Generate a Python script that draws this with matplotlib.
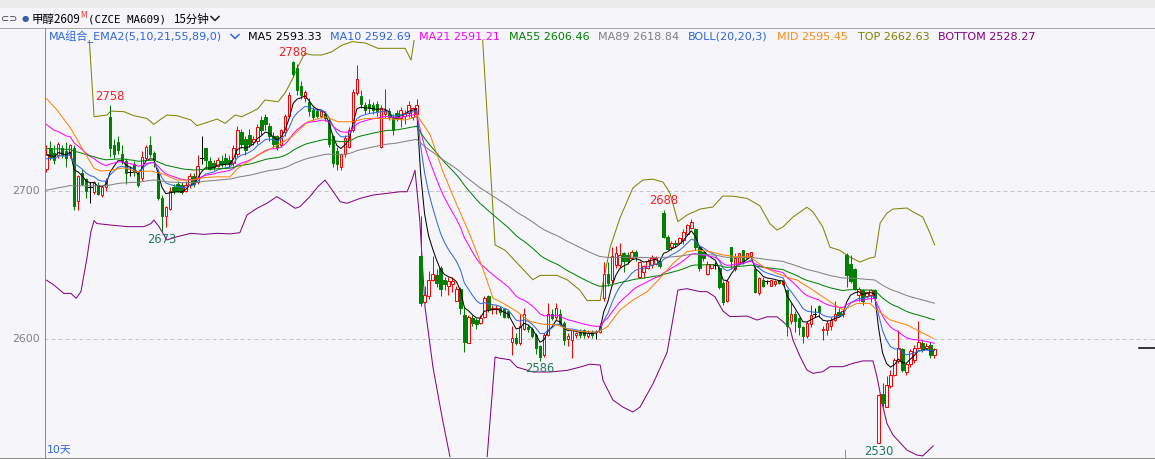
import matplotlib
matplotlib.use('Agg')
import matplotlib.pyplot as plt
from matplotlib.patches import Rectangle
from matplotlib.lines import Line2D

# ---------------- data (15-minute candles) ----------------
opens = [2715,2729,2726,2724,2729,2727,2724,2729,2693,2712,
         2708,2703,2699,2704,2697,2703,2750,2731,2733,2725,
         2720,2713,2718,2712,2709,2722,2731,2726,2712,2695,
         2683,2688,2703,2705,2704,2700,2704,2710,2706,2722,
         2729,2720,2719,2717,2720,2722,2721,2719,2725,2740,
         2735,2738,2733,2734,2748,2750,2744,2737,2737,2731,
         2740,2751,2787,2783,2771,2763,2760,2755,2754,2751,
         2752,2748,2737,2727,2716,2725,2730,2741,2766,2764,
         2758,2759,2758,2759,2730,2752,2754,2750,2753,2749,
         2751,2753,2750,2752,2656,2625,2629,2640,2643,2648,
         2640,2636,2637,2626,2634,2616,2597,2614,2613,2611,
         2615,2629,2620,2620,2621,2620,2619,2598,2601,2597,
         2607,2608,2607,2603,2595,2589,2603,2617,2615,2617,
         2611,2600,2599,2603,2605,2606,2602,2605,2605,2605,
         2628,2644,2640,2650,2650,2658,2657,2655,2659,2642,
         2645,2648,2650,2651,2652,2685,2669,2662,2665,2665,
         2667,2671,2675,2674,2662,2659,2644,2648,2650,2648,
         2638,2626,2662,2647,2651,2660,2655,2656,2647,2631,
         2640,2639,2636,2637,2640,2637,2633,2612,2617,2614,
         2608,2602,2610,2617,2622,2606,2606,2609,2613,2618,
         2617,2657,2651,2647,2630,2633,2629,2630,2633,2530,
         2563,2554,2568,2576,2585,2593,2578,2583,2586,2594,
         2597,2594,2596,2589]
highs = [2731,2734,2731,2733,2731,2733,2732,2731,2711,2715,
         2709,2706,2707,2706,2704,2709,2758,2735,2737,2731,
         2722,2717,2720,2713,2727,2731,2737,2727,2715,2697,
         2690,2703,2705,2707,2706,2707,2712,2712,2724,2737,
         2729,2723,2721,2723,2724,2726,2724,2731,2744,2742,
         2737,2742,2737,2745,2751,2752,2746,2740,2738,2742,
         2752,2767,2788,2786,2774,2768,2763,2757,2756,2755,
         2754,2750,2738,2730,2726,2738,2743,2769,2785,2768,
         2760,2762,2760,2761,2758,2769,2756,2752,2755,2757,
         2755,2761,2757,2762,2683,2636,2646,2656,2647,2649,
         2642,2642,2642,2636,2635,2622,2616,2616,2614,2616,
         2629,2630,2623,2623,2622,2620,2619,2609,2604,2617,
         2621,2610,2608,2604,2596,2604,2624,2620,2624,2620,
         2612,2604,2606,2605,2607,2607,2606,2606,2606,2611,
         2652,2652,2662,2663,2665,2659,2659,2660,2660,2653,
         2650,2654,2657,2656,2654,2687,2670,2666,2667,2669,
         2674,2678,2681,2675,2663,2659,2653,2651,2652,2649,
         2639,2640,2662,2658,2658,2660,2658,2659,2649,2642,
         2642,2640,2640,2640,2640,2640,2634,2624,2619,2615,
         2609,2612,2623,2621,2623,2609,2613,2615,2626,2621,
         2620,2658,2657,2648,2635,2634,2632,2634,2634,2563,
         2570,2575,2579,2587,2606,2594,2584,2593,2596,2612,
         2599,2597,2598,2594]
lows = [2713,2721,2718,2722,2722,2716,2722,2687,2687,2704,
        2695,2692,2698,2697,2696,2700,2723,2722,2725,2718,
        2705,2710,2710,2703,2707,2721,2723,2716,2694,2673,
        2676,2687,2698,2699,2698,2699,2702,2703,2705,2718,
        2715,2714,2714,2716,2716,2717,2716,2717,2723,2729,
        2724,2730,2731,2732,2738,2741,2734,2729,2728,2730,
        2737,2749,2777,2765,2762,2760,2751,2748,2749,2749,
        2747,2730,2716,2714,2714,2723,2729,2740,2765,2756,
        2752,2753,2752,2751,2729,2749,2748,2738,2747,2743,
        2745,2750,2748,2750,2622,2624,2627,2639,2635,2629,
        2633,2630,2632,2626,2617,2591,2597,2609,2607,2610,
        2614,2618,2617,2617,2616,2614,2614,2589,2596,2596,
        2606,2605,2601,2590,2585,2588,2602,2613,2613,2609,
        2596,2595,2587,2601,2601,2601,2601,2601,2600,2604,
        2626,2636,2638,2648,2648,2645,2651,2654,2653,2641,
        2641,2647,2648,2650,2648,2668,2660,2660,2662,2664,
        2664,2670,2674,2660,2646,2653,2643,2647,2647,2634,
        2623,2625,2647,2646,2650,2651,2654,2655,2631,2630,
        2635,2637,2636,2636,2637,2636,2602,2610,2605,2603,
        2597,2601,2608,2615,2615,2599,2603,2606,2612,2615,
        2615,2635,2638,2633,2626,2623,2628,2625,2625,2530,
        2554,2554,2567,2575,2584,2578,2576,2581,2584,2593,
        2591,2593,2587,2587]
closes = [2725,2723,2721,2732,2724,2722,2731,2690,2710,2705,
          2700,2703,2706,2698,2703,2707,2729,2725,2728,2720,
          2712,2713,2713,2704,2723,2730,2725,2721,2695,2683,
          2689,2700,2700,2700,2699,2704,2710,2705,2717,2722,
          2721,2715,2716,2721,2718,2719,2718,2729,2741,2732,
          2728,2732,2735,2743,2741,2745,2737,2732,2730,2741,
          2751,2765,2779,2768,2765,2767,2754,2750,2751,2754,
          2749,2732,2719,2718,2725,2736,2741,2767,2776,2759,
          2755,2756,2755,2754,2756,2755,2750,2741,2749,2755,
          2753,2758,2756,2758,2624,2630,2640,2644,2638,2634,
          2637,2639,2639,2634,2621,2598,2615,2611,2610,2614,
          2628,2620,2621,2621,2618,2615,2615,2601,2597,2609,
          2617,2607,2602,2594,2588,2603,2617,2614,2621,2610,
          2599,2602,2606,2604,2603,2603,2604,2603,2605,2609,
          2644,2638,2656,2658,2657,2653,2653,2659,2656,2652,
          2649,2653,2655,2655,2649,2669,2661,2665,2664,2668,
          2672,2677,2679,2662,2648,2655,2651,2651,2650,2635,
          2625,2639,2653,2655,2658,2653,2658,2659,2632,2641,
          2636,2639,2640,2639,2638,2639,2609,2617,2612,2608,
          2602,2611,2616,2617,2618,2607,2611,2613,2617,2616,
          2619,2643,2639,2634,2634,2626,2632,2633,2628,2562,
          2557,2569,2576,2586,2594,2579,2583,2592,2594,2598,
          2593,2595,2589,2593]

# EMA periods and their starting values at the left edge
ema_periods = [5, 10, 21, 55, 89]
ema_seeds = [2724, 2721, 2747, 2729, 2700]
ema_colors = ['#000000', '#2F66E0', '#FF00FF', '#008000', '#808080']

# BOLL(20,20,3) lines sampled along the chart (candle index, price)
mid_idx = [0,2.7,6.2,9.5,12,13.7,16.2,19.5,22.8,26.3,29.6,32.8,36.3,39.6,42.9,46.1,
           48.1,53.2,57.4,61.7,65.7,70,73.3,76.8,80.1,85.1,90.1,92.6,93.1,96.4,99.6,
           103.1,106.4,109.6,112.2,114.7,118.2,121.5,124.7,128.2,131.5,134.8,138.3,
           140.8,144.1,147.3,150.9,154.1,157.4,160.9,163.4,166.7,169.9,173.5,176.7,
           180,183.5,186.8,188.5,192.5,196.8,200.1,203.6,206.8,208.6,211.9,216.1,
           219.4,222.7]
mid_val = [2762.6,2754.7,2742,2726.5,2715.3,2713.5,2714,2715.7,2713,2713.5,2711.2,
           2707.4,2707.4,2709,2709.6,2709.5,2715.3,2724.3,2730,2736.7,2746.8,2750.2,
           2746.8,2746.8,2749,2749,2748,2749.8,2751.4,2737.9,2713.1,2690.6,2670.3,
           2647.8,2627.5,2624.2,2618.5,2611.8,2610,2609.5,2606.1,2605,2604.6,2608,
           2619.6,2626.3,2632,2641,2651.1,2659,2660.1,2659,2656.8,2655.6,2655.6,
           2648.9,2644.4,2641,2639.9,2633.1,2625.2,2619.6,2624.1,2624.1,2619.6,
           2612.9,2609.5,2605,2600.5]
top_idx = [10.5,12,15.2,16.2,19.5,22,25.3,27,28.8,30.3,32.8,36.3,37.8,40.4,42.9,44.9,
           47.4,49.1,51.7,53.2,54.9,58.2,59.9,61.7,63.2,64.9,66.7,69.2,71.7,74.3,
           76.8,80.1,83.3,86.8,90.1,91.6,93.4,108.5,112.7,115.2,122.2,124,128.2,
           130.8,134,135.8,139.1,139.8,141.6,144.1,147.3,149.8,152.3,154.9,156.6,
           158.6,160.9,164.2,167.4,169.9,172.4,176,179.2,181.7,183.5,185,187.5,
           191,192.5,195,196.8,199.2,201.8,204.3,206.8,208.1,209.4,211.1,212.6,
           216.1,217.6,220.1,221.9,223.1]
top_val = [2815,2750.2,2751.3,2754,2753.6,2750.9,2749,2745,2748.6,2751.3,2750.9,2748,
           2744.1,2746.4,2748.6,2745.7,2751.3,2750.2,2753.6,2755.8,2761.5,2760.3,
           2766,2775,2784,2793,2791.9,2791.9,2794.1,2798.6,2800.9,2800,2796.4,
           2796.4,2796.4,2788.5,2820,2850,2663.5,2660,2640,2643,2643,2640,2633,
           2626,2626,2638,2662,2682,2702,2707.4,2708,2706,2698.6,2679.3,2683.8,
           2687.8,2689.2,2696.6,2696.5,2695,2690,2678,2673.6,2675.7,2682.4,2689,
           2686,2675.7,2662,2660,2655.4,2652,2654.7,2655.4,2678.4,2685,2687.8,
           2688.5,2686,2682.4,2671.6,2663.5]
bot_idx = [0,1.9,4.4,6.2,7.5,8.7,10.2,11.2,12,12.7,16.2,20.3,24.5,26.3,27,28.3,30.3,
           32.8,36.3,39.6,42.9,46.1,48.6,50.4,52.9,55.4,57.9,60.4,62.5,63.7,66.2,
           68.2,70,71.2,73.8,75.5,78.8,82.1,85.6,88.8,90.6,91.8,92.6,93.8,95.1,
           97.1,99.4,101.4,103.4,109.2,110.7,112.7,113.9,116.4,118.2,122.2,126.5,
           130.8,134,136.5,139.1,139.8,142.3,144.8,147.3,149.1,152.4,155.9,157.4,
           158.6,160.9,164.2,165.9,167.9,169.9,171.7,176,178.5,181,183.5,185,
           186.8,187.5,189.3,191,192.5,195,196.8,200.1,202.6,205.1,207.6,208.6,
           209.9,211.1,212.6,216.1,218.6,220.1,222.7]
bot_val = [2639.8,2636.5,2630.8,2630.8,2627.5,2632,2654.5,2672.5,2680,2678,2677,
           2675.9,2675.9,2678,2680.4,2675.9,2666.9,2669.1,2671.4,2670.7,2671.4,
           2671,2671.8,2683.8,2688.3,2691.7,2696.2,2692.1,2688.3,2689.4,2696.2,
           2702.9,2707.4,2702.9,2692.8,2691.7,2695,2697.3,2698.4,2699.5,2699.5,
           2707.4,2714,2680,2621.6,2581,2547,2520,2490,2490,2520,2587.8,2587,
           2586,2581,2577.7,2577.7,2578.8,2581,2583,2582.4,2572,2558.8,2554,
           2550.7,2554,2570,2591,2614,2633,2634,2632,2632,2628.6,2619,2615.1,
           2615.5,2612.8,2615,2615,2611.7,2607.2,2599.3,2588.1,2579.1,2576.8,
           2577.9,2581.3,2581.3,2583.6,2585.2,2585.2,2574.6,2556.6,2543,2535.2,
           2525,2521.6,2521,2527.7]

# extreme-value annotations
marks = [(16, 2758, 'hi'), (62, 2788, 'hi'), (29, 2673, 'lo'),
         (155, 2688, 'hi'), (124, 2586, 'lo'), (209, 2530, 'lo')]

header_items = [("MA5 2593.33", '#000000'), ("MA10 2592.69", '#2F66E0'),
                ("MA21 2591.21", '#FF00FF'), ("MA55 2606.46", '#008000'),
                ("MA89 2618.84", '#808080'), ("BOLL(20,20,3)", '#2F66E0'),
                ("MID 2595.45", '#FF8C1A'), ("TOP 2662.63", '#808000'),
                ("BOTTOM 2528.27", '#800080')]
header_x = [248, 330, 419, 509, 598, 688, 777, 858, 938]
ytick_vals = [2700, 2600]

# ---------------- figure ----------------
W, H = 1155, 459
BG = '#F5F5FA'
fig = plt.figure(figsize=(W / 100, H / 100), dpi=100)
fig.patch.set_facecolor(BG)

def fx(px):
    return px / W

def fy(py):
    return 1 - py / H

def price_at(py):
    return 2700 + (191 - py) / 1.48

N = len(closes)
x_first, x_last = 46.3, 934.3
step = (x_last - x_first) / (N - 1)

ax = fig.add_axes([fx(44), fy(457), (W - 44) / W, (457 - 40) / H])
ax.set_facecolor(BG)
ax.set_xlim((44 - x_first) / step, (W - x_first) / step)
ax.set_ylim(price_at(457), price_at(40))
for s in ax.spines.values():
    s.set_visible(False)
ax.set_xticks([])
ax.set_yticks([])

PX = 0.72
for v in ytick_vals:
    ax.axhline(v, color='#C4C4C4', lw=PX, ls=(0, (4, 3)), zorder=1)

# BOLL lines
ax.plot(top_idx, top_val, color='#808000', lw=PX, zorder=2)
ax.plot(bot_idx, bot_val, color='#800080', lw=PX, zorder=2)

# candles
bw = 0.62
for i, (o, h, l, c) in enumerate(zip(opens, highs, lows, closes)):
    if c > o:
        col = '#FF0000'
    elif c < o:
        col = '#008000'
    else:
        col = '#000000'
    ax.plot([i, i], [l, h], color=col, lw=PX, zorder=3, solid_capstyle='butt')
    if c == o:
        ax.plot([i - bw / 2 - 0.1, i + bw / 2 + 0.1], [o, o], color=col, lw=PX, zorder=4)
    else:
        face = BG if c > o else col
        ax.add_patch(Rectangle((i - bw / 2, min(o, c)), bw, abs(c - o),
                               facecolor=face, edgecolor=col, lw=PX, zorder=4))

# EMA group lines
for n, seed, col in zip(ema_periods, ema_seeds, ema_colors):
    a = 2.0 / (n + 1)
    e = seed
    vals = []
    for v in closes:
        e = e + a * (v - e)
        vals.append(e)
    ax.plot(range(N), vals, color=col, lw=PX, zorder=5)

ax.plot(mid_idx, mid_val, color='#FF8000', lw=PX, zorder=5)

# annotations
for idx, val, kind in marks:
    if kind == 'hi':
        ax.annotate(str(val), (idx, val), xytext=(0, 2), textcoords='offset pixels',
                    ha='center', va='bottom', color='#FF2020', fontsize=8.3,
                    annotation_clip=False, zorder=6)
    else:
        ax.annotate(str(val), (idx, val), xytext=(0, -2), textcoords='offset pixels',
                    ha='center', va='top', color='#1F7A55', fontsize=8.3,
                    annotation_clip=False, zorder=6)

# y labels
for v in ytick_vals:
    py = 191 + (2700 - v) * 1.48
    fig.text(fx(40), fy(py), str(v), ha='right', va='center', color='#808080', fontsize=7.8)

# frame lines
frame_col = '#8C8C8C'
fig.add_artist(Line2D([0, 1], [fy(27.5), fy(27.5)], color='#A8A8A8', lw=PX))
fig.add_artist(Line2D([fx(44.5), fx(44.5)], [fy(27.5), fy(457.5)], color=frame_col, lw=PX))
fig.add_artist(Line2D([0, 1], [fy(457.5), fy(457.5)], color=frame_col, lw=PX))
fig.add_artist(Rectangle((0, fy(8)), 1, 1 - fy(8), transform=fig.transFigure,
                         facecolor='#ECECEC', edgecolor='none'))
fig.add_artist(Line2D([fx(844.5), fx(844.5)], [fy(450), fy(457)], color='#909090', lw=PX))
fig.add_artist(Line2D([fx(1139), 1], [fy(348), fy(348)], color='#000000', lw=1.1))

# header row 1
cjk = ['DejaVu Sans', 'Noto Sans CJK SC']
fig.text(fx(1), fy(19), '⊂⊃', ha='left', va='center', fontsize=7, color='#404040')
fig.text(fx(22), fy(19), '●', ha='left', va='center', fontsize=6, color='#3B5BA5')
fig.text(fx(32), fy(19), '甲醇2609', ha='left', va='center', fontsize=8.3,
         family=['Noto Sans CJK SC', 'DejaVu Sans'], color='#000000')
fig.text(fx(80), fy(16), 'M', ha='left', va='center', fontsize=5.5, color='#FF3030')
fig.text(fx(88), fy(19), '(CZCE MA609)', ha='left', va='center', fontsize=7.8,
         family='DejaVu Sans Mono', color='#000000')
fig.text(fx(173), fy(19), '15分钟', ha='left', va='center', fontsize=8.3,
         family=['Noto Sans CJK SC', 'DejaVu Sans'], color='#000000')
fig.add_artist(Line2D([fx(211), fx(215), fx(219)], [fy(16.5), fy(20.5), fy(16.5)],
                      color='#202020', lw=1.1))

# header row 2
fig.text(fx(49), fy(36.5), 'MA组合_EMA2(5,10,21,55,89,0)', ha='left', va='center',
         fontsize=8, family=cjk, color='#2F66E0')
fig.add_artist(Line2D([fx(231), fx(235), fx(239)], [fy(34.5), fy(38.5), fy(34.5)],
                      color='#2F66E0', lw=1.1))
for (txt, col), px in zip(header_items, header_x):
    fig.text(fx(px), fy(36.5), txt, ha='left', va='center', fontsize=8, color=col)

fig.text(fx(47), fy(449), '10天', ha='left', va='center', fontsize=7.8,
         family=cjk, color='#2F66E0')

fig.savefig('out.png', dpi=100, facecolor=BG)
